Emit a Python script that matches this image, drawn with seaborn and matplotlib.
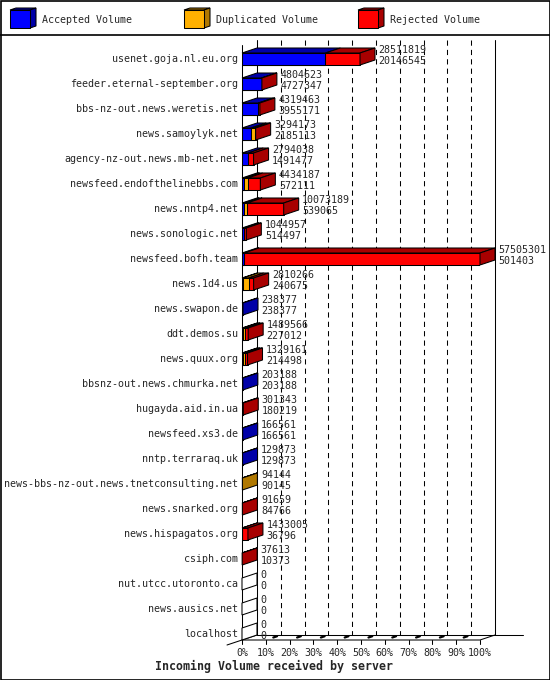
import numpy as np
import pandas as pd
import matplotlib
matplotlib.use('Agg')
import matplotlib.pyplot as plt
from matplotlib.patches import Polygon, Rectangle
from matplotlib.lines import Line2D
import seaborn as sns

# incoming volume per server (bytes): offered total, accepted, duplicated (estimated)
hosts = ['usenet.goja.nl.eu.org', 'feeder.eternal-september.org', 'bbs-nz-out.news.weretis.net',
         'news.samoylyk.net', 'agency-nz-out.news.mb-net.net', 'newsfeed.endofthelinebbs.com',
         'news.nntp4.net', 'news.sonologic.net', 'newsfeed.bofh.team', 'news.1d4.us',
         'news.swapon.de', 'ddt.demos.su', 'news.quux.org', 'bbsnz-out.news.chmurka.net',
         'hugayda.aid.in.ua', 'newsfeed.xs3.de', 'nntp.terraraq.uk',
         'news-bbs-nz-out.news.tnetconsulting.net', 'news.snarked.org', 'news.hispagatos.org',
         'csiph.com', 'nut.utcc.utoronto.ca', 'news.ausics.net', 'localhost']
offered = [28511819, 4804623, 4319463, 3294173, 2794038, 4434187, 10073189, 1044957,
           57505301, 2810266, 238377, 1489566, 1329161, 203188, 301343, 166561, 129873,
           94144, 91659, 1433005, 37613, 0, 0, 0]
accepted = [20146545, 4727347, 3955171, 2185113, 1491477, 572111, 539065, 514497,
            501403, 240675, 238377, 227012, 214498, 203188, 180219, 166561, 129873,
            90145, 84766, 36796, 10373, 0, 0, 0]
duplicated = [0, 0, 0, 850000, 0, 800000, 700000, 0, 0, 1350000, 0, 450000, 450000,
              0, 0, 0, 0, 3999, 0, 0, 0, 0, 0, 0]

df = pd.DataFrame({'host': hosts, 'offered': offered, 'accepted': accepted,
                   'duplicated': duplicated})
df['rejected'] = df['offered'] - df['accepted'] - df['duplicated']
scale = 100 / df['offered'].max()
df['acc_pct'] = df['accepted'] * scale
df['dup_pct'] = df['duplicated'] * scale
df['rej_pct'] = df['rejected'] * scale
df['accdup_pct'] = df['acc_pct'] + df['dup_pct']
df['tot_pct'] = df['offered'] * scale

FRONT = {'acc': '#0000ff', 'dup': '#ffb000', 'rej': '#ff0000'}
DARK = {'acc': '#0000a8', 'dup': '#b07800', 'rej': '#a80000'}
MONO = 'DejaVu Sans Mono'

sns.set_theme(style='white')
plt.rcParams['font.family'] = [MONO]

W, H = 550, 680
fig = plt.figure(figsize=(W / 100, H / 100), dpi=100)
ax = fig.add_axes([242 / W, 1 - 640 / H, 238 / W, 600 / H])

px = 100 / 238     # data units per pixel (x)
py = 1 / 25        # data units per pixel (y)
DX, DY = 15 * px, 5 * py
half = 0.24
y_top, y_floor = -0.76, 23.24
LW = 0.75

# front faces, stacked by overlaying cumulative totals
kw = dict(orient='h', width=2 * half, edgecolor='black', linewidth=LW,
          saturation=1, errorbar=None, zorder=3, ax=ax)
sns.barplot(data=df, x='tot_pct', y='host', color=FRONT['rej'], **kw)
sns.barplot(data=df, x='accdup_pct', y='host', color=FRONT['dup'], **kw)
sns.barplot(data=df, x='acc_pct', y='host', color=FRONT['acc'], **kw)

ax.set_xlim(0, 100)
ax.set_ylim(y_floor, y_top)
ax.axis('off')

# back wall, grid and floor
line = dict(color='black', lw=LW, clip_on=False, zorder=1)
ax.plot([DX, DX], [y_top, y_floor - DY], **line)
ax.plot([100 + DX, 100 + DX], [y_top, y_floor - DY], **line)
for k in range(1, 10):
    ax.plot([10 * k + DX] * 2, [y_top, y_floor - DY], color='black', lw=LW,
            linestyle=(0, (5, 4)), clip_on=False, zorder=1)
ax.plot([DX, 100 + DX + 28 * px], [y_floor - DY] * 2, **line)
ax.plot([0, 0], [y_top + DY, y_floor], **line)
ax.plot([-DX, DX], [y_floor + DY, y_floor - DY], **line)
ax.plot([0, 100, 100 + DX], [y_floor, y_floor, y_floor - DY], **line)
for k in range(11):
    ax.plot([10 * k] * 2, [y_floor, y_floor + 4 * py], **line)
    ax.text(10 * k, y_floor + 13 * py, f'{10 * k}%', ha='center', va='center',
            fontsize=7.2, family=MONO)
    if 0 < k < 10:
        ax.plot([10 * k + 0.5 * DX, 10 * k + 0.75 * DX],
                [y_floor - 0.5 * DY, y_floor - 0.75 * DY], color='black', lw=1.6,
                clip_on=False, zorder=1)

# 3D top and side faces
for i, row in df.iterrows():
    x0, last = 0.0, None
    for key in ['acc', 'dup', 'rej']:
        val = row[key + '_pct']
        if val <= 0:
            continue
        x1 = x0 + val
        ax.fill([x0, x1, x1 + DX, x0 + DX],
                [i - half, i - half, i - half - DY, i - half - DY],
                facecolor=DARK[key], edgecolor='black', lw=LW, clip_on=False, zorder=3)
        x0, last = x1, key
    ax.fill([x0, x0, x0 + DX, x0 + DX],
            [i - half, i + half, i + half - DY, i - half - DY],
            facecolor=DARK[last] if last else 'white', edgecolor='black', lw=LW,
            clip_on=False, zorder=3)
    tx = row['tot_pct'] + DX + 3.5 * px
    ax.text(tx, i - 9 * py, str(row['offered']), ha='left', va='center',
            fontsize=7.2, family=MONO, zorder=4)
    ax.text(tx, i + 2 * py, str(row['accepted']), ha='left', va='center',
            fontsize=7.2, family=MONO, zorder=4)
    ax.text(-4 * px, i, row['host'], ha='right', va='center', fontsize=7.2, family=MONO)


def fp(x, y):
    return (x / W, 1 - y / H)


# frame and legend
fig.add_artist(Rectangle(fp(0.5, 679.5), 549 / W, 679 / H, transform=fig.transFigure,
                         fill=False, edgecolor='black', lw=1.2))
fig.add_artist(Line2D([0, 1], [1 - 35 / H] * 2, transform=fig.transFigure,
                      color='black', lw=1.2))
legend = [('acc', 'Accepted Volume', 10), ('dup', 'Duplicated Volume', 184),
          ('rej', 'Rejected Volume', 358)]
for key, label, lx in legend:
    for pts, col in [([(lx, 10), (lx + 20, 10), (lx + 26, 8), (lx + 6, 8)], DARK[key]),
                     ([(lx + 20, 10), (lx + 20, 28), (lx + 26, 26), (lx + 26, 8)], DARK[key]),
                     ([(lx, 10), (lx + 20, 10), (lx + 20, 28), (lx, 28)], FRONT[key])]:
        fig.add_artist(Polygon([fp(*p) for p in pts], closed=True, transform=fig.transFigure,
                               facecolor=col, edgecolor='black', lw=LW))
    fig.text(*fp(lx + 32, 20), label, ha='left', va='center', fontsize=7.2, family=MONO)

fig.text(*fp(274, 666), 'Incoming Volume received by server', ha='center', va='center',
         fontsize=8.4, family=MONO, fontweight='bold')

fig.savefig('out.png', dpi=100)
